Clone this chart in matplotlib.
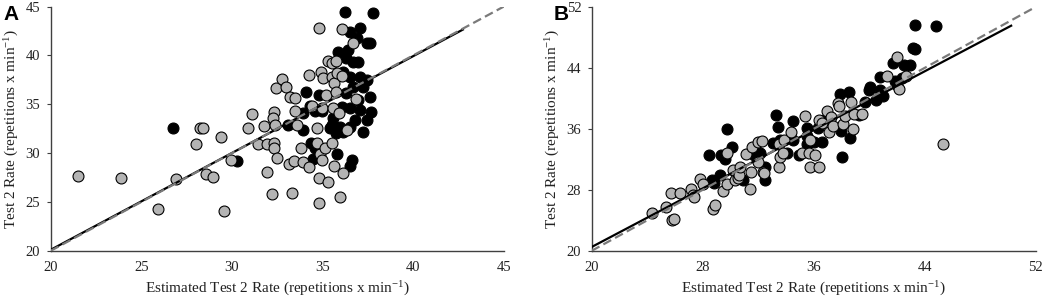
import matplotlib
matplotlib.use("Agg")
import matplotlib.pyplot as plt
import numpy as np

# ---------------- Panel A data ----------------
a_grey_x = [21.49, 23.86, 26.9, 25.92, 28.24, 28.42, 28.0, 28.57, 28.93, 29.39, 29.58, 29.93,
            31.12, 30.9, 31.45, 31.78, 31.91, 31.91, 32.19, 32.32, 32.28, 32.37, 32.43, 32.74,
            32.96, 32.32, 32.32, 32.5, 33.13, 33.31, 33.2, 33.47, 33.46, 33.57, 33.42, 33.84,
            33.93, 34.26, 34.25, 34.43, 34.82, 34.72, 34.67, 34.82, 34.8, 34.85, 34.98, 34.94,
            35.04, 34.98, 35.13, 35.22, 35.28, 35.28, 35.5, 35.55, 35.64, 35.59, 35.5, 35.64,
            35.74, 35.74, 35.81, 35.96, 35.9, 36.08, 36.08, 36.14, 36.36, 36.69, 36.84]
a_grey_y = [27.65, 27.41, 27.34, 24.24, 32.53, 32.53, 30.93, 27.86, 27.58, 31.68, 24.1, 29.29,
            34.0, 32.53, 30.93, 32.77, 30.93, 28.03, 25.8, 34.24, 33.56, 32.88, 36.63, 37.59,
            36.73, 31.07, 30.49, 29.46, 28.88, 25.94, 35.78, 35.61, 34.31, 32.88, 29.22, 30.49,
            29.12, 28.6, 38.0, 34.83, 42.78, 32.53, 31.0, 27.41, 24.85, 29.95, 29.29, 38.33,
            37.65, 34.59, 30.49, 35.95, 27.07, 39.47, 39.2, 37.83, 37.14, 34.59, 31.07, 28.67,
            39.47, 36.3, 38.16, 25.46, 34.07, 42.68, 37.9, 27.99, 32.36, 41.24, 35.51]
a_black_x = [26.76, 30.26, 36.23, 37.79, 37.06, 36.5, 36.88, 37.43, 37.61, 35.86, 36.32, 36.69,
             36.97, 36.41, 36.14, 36.5, 37.06, 37.43, 36.69, 37.24, 36.32, 36.97, 37.61, 36.05,
             36.5, 37.06, 37.7, 35.59, 35.5, 35.68, 35.96, 36.5, 37.24, 35.42, 34.1, 34.78,
             34.32, 34.59, 34.96, 33.93, 33.11, 33.93, 34.39, 34.58, 34.49, 35.81, 36.5, 36.65,
             35.77, 36.14, 37.43, 36.8]
a_black_y = [32.53, 29.22, 44.42, 44.32, 42.78, 42.44, 41.76, 41.24, 41.24, 40.39, 39.71, 39.37,
             39.37, 40.56, 38.33, 37.83, 37.83, 37.49, 36.8, 36.8, 36.12, 35.44, 35.78, 34.76,
             34.59, 34.41, 34.24, 33.56, 32.88, 32.53, 32.7, 32.7, 32.19, 32.53, 36.3, 35.95,
             34.83, 34.31, 34.31, 34.14, 32.84, 32.36, 31.0, 30.49, 29.36, 29.9, 28.67, 29.29,
             32.02, 32.19, 33.39, 33.39]
a_fit_x = [20.0, 42.8]
a_fit_y = [20.1, 42.7]
a_ident = [20.0, 45.0]
a_ticks = [20, 25, 30, 35, 40, 45]

# ---------------- Panel B data ----------------
b_grey_x = [24.33, 25.34, 25.72, 25.77, 25.94, 26.37, 27.16, 27.28, 27.38, 27.81, 28.05, 28.77,
            28.89, 29.45, 29.74, 29.78, 30.22, 30.34, 30.58, 30.65, 30.7, 31.13, 31.42, 31.49,
            31.54, 31.95, 32.02, 32.26, 32.38, 32.45, 33.53, 33.58, 33.51, 33.82, 33.89, 34.35,
            35.14, 35.38, 35.63, 35.7, 35.75, 36.11, 36.35, 36.35, 36.59, 36.95, 37.07, 37.24,
            37.38, 37.72, 37.84, 38.1, 38.27, 38.68, 38.82, 38.94, 39.47, 41.27, 41.99, 42.12,
            42.67, 45.31]
b_grey_y = [24.91, 25.79, 27.63, 24.03, 24.21, 27.63, 28.07, 27.32, 27.1, 29.43, 28.72, 25.44,
            26.0, 27.89, 28.77, 32.8, 30.61, 29.29, 29.51, 29.95, 31.05, 32.67, 28.07, 30.3,
            33.68, 31.62, 34.34, 34.47, 30.39, 30.17, 30.96, 32.36, 34.03, 32.8, 34.56, 35.56,
            32.8, 37.71, 32.8, 31.05, 34.56, 32.58, 31.05, 37.19, 36.75, 38.28, 35.65, 37.62,
            36.31, 39.38, 39.03, 36.66, 37.71, 39.47, 35.96, 37.97, 37.97, 42.88, 45.43, 41.26,
            42.97, 34.03]
b_black_x = [28.46, 28.65, 28.85, 29.25, 29.33, 29.62, 29.74, 30.14, 30.94, 31.73, 32.14, 32.5,
             32.5, 33.05, 33.27, 33.41, 33.58, 34.11, 34.5, 34.54, 34.95, 35.5, 35.55, 35.55,
             35.99, 36.3, 36.59, 36.71, 37.86, 37.98, 38.03, 38.51, 38.63, 39.23, 39.71, 39.95,
             40.07, 40.5, 40.75, 41.03, 40.79, 41.75, 41.88, 42.48, 42.96, 43.15, 43.27, 43.27,
             44.81, 41.99, 42.36]
b_black_y = [32.58, 29.29, 28.94, 29.95, 32.58, 32.01, 36.0, 33.68, 29.29, 32.58, 32.89, 31.05,
             29.29, 34.12, 37.84, 36.22, 34.56, 32.8, 36.97, 34.56, 32.58, 36.09, 35.08, 34.03,
             34.34, 36.09, 34.34, 37.19, 40.6, 35.78, 32.28, 40.87, 34.77, 37.84, 39.47, 41.04,
             41.48, 39.82, 41.13, 40.25, 42.75, 44.64, 42.23, 44.42, 44.42, 46.61, 46.52, 49.68,
             49.46, 41.79, 42.67]
b_fit_x = [20.0, 50.3]
b_fit_y = [20.5, 49.6]
b_ident = [20.0, 52.0]
b_ticks = [20, 28, 36, 44, 52]

# ---------------- Styling ----------------
plt.rcParams['font.family'] = ['Liberation Serif', 'DejaVu Serif']
plt.rcParams['mathtext.fontset'] = 'stix'

GREY = '#b4b4b4'
SPINE = '#404040'
XLABEL = r'Estimated Test 2 Rate (repetitions x min$^{\mathregular{-1}}$)'
YLABEL = r'Test 2 Rate (repetitions x min$^{\mathregular{-1}}$)'

fig = plt.figure(figsize=(10.56, 3.0), dpi=100)
axA = fig.add_axes([0.048, 0.164, 0.429, 0.814])
axB = fig.add_axes([0.5603, 0.164, 0.4205, 0.813])


def style(ax, ticks):
    ax.set_xlim(ticks[0], ticks[-1])
    ax.set_ylim(ticks[0], ticks[-1])
    ax.set_xticks(ticks)
    ax.set_yticks(ticks)
    for s in ['top', 'right']:
        ax.spines[s].set_visible(False)
    for s in ['left', 'bottom']:
        ax.spines[s].set_color(SPINE)
        ax.spines[s].set_linewidth(1.0)
    ax.tick_params(axis='both', direction='out', length=3, width=0.8,
                   color=SPINE, labelsize=10.5, labelcolor='#222222', pad=4.5)
    ax.tick_params(axis='x', length=0, pad=7.5)
    ax.set_xlabel(XLABEL, fontsize=11, color='#222222', labelpad=3)
    ax.set_ylabel(YLABEL, fontsize=11, color='#222222', labelpad=4)


def draw(ax, gx, gy, bx, by, fx, fy, ident):
    ms = 62
    ax.scatter(bx, by, s=ms, c='black', edgecolors='black', linewidths=0.8, zorder=3, clip_on=False)
    ax.scatter(gx, gy, s=ms, c=GREY, edgecolors='black', linewidths=0.8, zorder=3, clip_on=False)
    ax.plot(fx, fy, color='black', lw=1.6, zorder=4, solid_capstyle='butt')
    ax.plot(ident, ident, color='#7a7a7a', lw=1.6, dashes=(4, 2), zorder=5)


draw(axA, a_grey_x, a_grey_y, a_black_x, a_black_y, a_fit_x, a_fit_y, a_ident)
style(axA, a_ticks)
draw(axB, b_grey_x, b_grey_y, b_black_x, b_black_y, b_fit_x, b_fit_y, b_ident)
style(axB, b_ticks)

fig.text(0.003, 0.985, 'A', fontsize=15, fontweight='bold', family='Liberation Sans',
         ha='left', va='top')
fig.text(0.524, 0.985, 'B', fontsize=15, fontweight='bold', family='Liberation Sans',
         ha='left', va='top')

fig.savefig('out.png', dpi=100)
